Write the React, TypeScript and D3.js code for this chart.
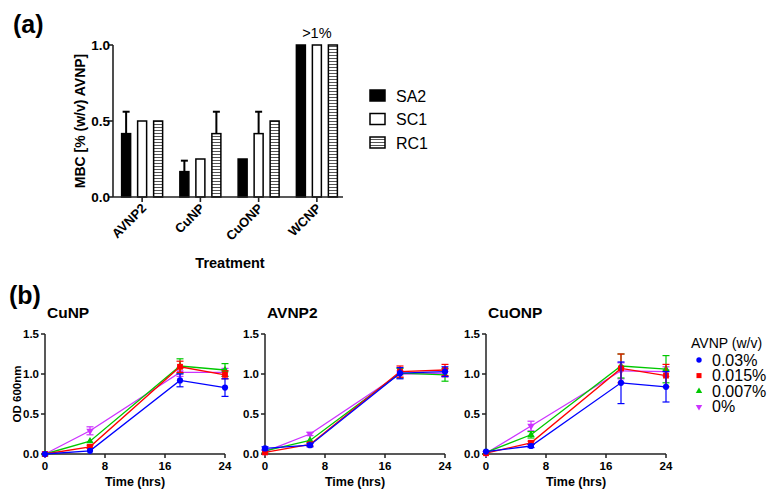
import React from "react";
import * as d3 from "d3";

// ---------- Panel (a) data ----------
const treatments = ["AVNP2", "CuNP", "CuONP", "WCNP"];
const strains = ["SA2", "SC1", "RC1"];
const sa2Values = [0.417, 0.167, 0.25, 1.0];
const sa2Errors = [0.144, 0.072, 0, 0];
const sc1Values = [0.5, 0.25, 0.417, 1.0];
const sc1Errors = [0, 0, 0.144, 0];
const rc1Values = [0.5, 0.417, 0.5, 1.0];
const rc1Errors = [0, 0.144, 0, 0];
const barTicks = [0, 0.5, 1.0];

// ---------- Panel (b) data ----------
const times = [0, 6, 18, 24];
const concLabels = ["0.03%", "0.015%", "0.007%", "0%"];
const panelTitles = ["CuNP", "AVNP2", "CuONP"];
const cunpMean = [
  [0, 0.04, 0.92, 0.83],
  [0, 0.09, 1.09, 0.99],
  [0, 0.16, 1.1, 1.05],
  [0, 0.29, 1.02, 1.02],
];
const cunpErr = [
  [0, 0.01, 0.08, 0.11],
  [0, 0.02, 0.07, 0.05],
  [0, 0.01, 0.09, 0.08],
  [0, 0.05, 0.05, 0.05],
];
const avnp2Mean = [
  [0.07, 0.11, 1.01, 1.03],
  [0.02, 0.12, 1.03, 1.05],
  [0.04, 0.17, 1.01, 0.99],
  [0.03, 0.25, 1.0, 1.01],
];
const avnp2Err = [
  [0.02, 0.02, 0.07, 0.06],
  [0.01, 0.02, 0.07, 0.07],
  [0.01, 0.01, 0.06, 0.08],
  [0.01, 0.02, 0.04, 0.05],
];
const cuonpMean = [
  [0.03, 0.1, 0.89, 0.84],
  [0.01, 0.14, 1.07, 0.98],
  [0.02, 0.24, 1.1, 1.06],
  [0.01, 0.35, 1.04, 1.03],
];
const cuonpErr = [
  [0.01, 0.02, 0.26, 0.19],
  [0.01, 0.02, 0.18, 0.14],
  [0.01, 0.04, 0.15, 0.17],
  [0.01, 0.06, 0.1, 0.06],
];
const odTicks = [0, 0.5, 1.0, 1.5];
const timeTicks = [0, 8, 16, 24];

const seriesColors = ["#0000ff", "#ff0000", "#00c800", "#cc33ff"];
const FONT = "'Liberation Sans', Arial, Helvetica, sans-serif";
const AXIS = "#222";

function markerPath(i: number, scale = 1) {
  const types = [d3.symbolCircle, d3.symbolSquare, d3.symbolTriangle, d3.symbolTriangle];
  const sizes = [30, 34, 24, 24];
  return d3.symbol().type(types[i]).size(sizes[i] * scale)() as string;
}

function BarPanel() {
  const x = d3.scaleBand<string>().domain(treatments).range([113, 346]).padding(0);
  const inner = d3.scaleBand<string>().domain(strains).range([-20.5, 20.5]).paddingInner(0.4375).paddingOuter(0);
  const y = d3.scaleLinear().domain([0, 1]).range([197, 45]);
  const values = [sa2Values, sc1Values, rc1Values];
  const errors = [sa2Errors, sc1Errors, rc1Errors];
  const fills = ["#000", "#fff", "url(#hstripes)"];
  const bw = inner.bandwidth();
  return (
    <g>
      <defs>
        <pattern id="hstripes" width="4" height="3" patternUnits="userSpaceOnUse">
          <rect width="4" height="3" fill="#fff" />
          <line x1="0" x2="4" y1="1.5" y2="1.5" stroke="#555" strokeWidth="1" />
        </pattern>
      </defs>
      <text x={13} y={33} fontFamily={FONT} fontWeight="bold" fontSize={25}>(a)</text>
      {treatments.map((t, ti) =>
        strains.map((s, si) => {
          const cx = (x(t) as number) + x.bandwidth() / 2 + (inner(s) as number);
          const v = values[si][ti];
          const e = errors[si][ti];
          return (
            <g key={t + s}>
              {e > 0 && (
                <g stroke="#000" strokeWidth={2}>
                  <line x1={cx + bw / 2} x2={cx + bw / 2} y1={y(v)} y2={y(v + e)} />
                  <line x1={cx + 1} x2={cx + bw - 1} y1={y(v + e)} y2={y(v + e)} />
                </g>
              )}
              <rect x={cx} y={y(v)} width={bw} height={y(0) - y(v)} fill={fills[si]} stroke="#000" strokeWidth={1.5} />
            </g>
          );
        })
      )}
      <line x1={113} x2={113} y1={y(1)} y2={y(0)} stroke={AXIS} strokeWidth={1.6} />
      {barTicks.map((tk) => (
        <g key={tk}>
          <line x1={108} x2={113} y1={y(tk)} y2={y(tk)} stroke={AXIS} strokeWidth={1.6} />
          <text x={110} y={y(tk) + 4.5} textAnchor="end" fontFamily={FONT} fontWeight="bold" fontSize={13.5}>
            {tk.toFixed(1)}
          </text>
        </g>
      ))}
      <text
        transform={`translate(85,121) rotate(-90)`}
        textAnchor="middle"
        fontFamily={FONT}
        fontWeight="bold"
        fontSize={14}
      >
        MBC [% (w/v) AVNP]
      </text>
      <line x1={113} x2={343} y1={y(0)} y2={y(0)} stroke={AXIS} strokeWidth={1.6} />
      {treatments.map((t) => {
        const cx = (x(t) as number) + x.bandwidth() / 2;
        return (
          <g key={t}>
            <line x1={cx} x2={cx} y1={y(0)} y2={y(0) + 5} stroke={AXIS} strokeWidth={1.6} />
            <text
              transform={`translate(${cx + 5},${y(0) + 12}) rotate(-45)`}
              textAnchor="end"
              fontFamily={FONT}
              fontWeight="bold"
              fontSize={13}
            >
              {t}
            </text>
          </g>
        );
      })}
      <text x={230} y={268} textAnchor="middle" fontFamily={FONT} fontWeight="bold" fontSize={14.5}>
        Treatment
      </text>
      <text
        x={(x("WCNP") as number) + x.bandwidth() / 2}
        y={38}
        textAnchor="middle"
        fontFamily={FONT}
        fontSize={14.5}
      >
        &gt;1%
      </text>
      {strains.map((s, si) => {
        const ly = 90 + si * 23.5;
        return (
          <g key={s}>
            <rect x={370} y={ly} width={15} height={11} fill={fills[si]} stroke="#000" strokeWidth={1.5} />
            <text x={396} y={ly + 11.5} fontFamily={FONT} fontSize={16}>
              {s}
            </text>
          </g>
        );
      })}
    </g>
  );
}

function LinePanel({ left, title, means, errs, showYLabel }: any) {
  const x = d3.scaleLinear().domain([0, 24]).range([left, left + 180]);
  const y = d3.scaleLinear().domain([0, 1.5]).range([454, 334]);
  const line = d3
    .line<number>()
    .x((_, i) => x(times[i]))
    .y((d) => y(d));
  return (
    <g>
      <text x={left + 2} y={318} fontFamily={FONT} fontWeight="bold" fontSize={15.5}>
        {title}
      </text>
      <line x1={left} x2={left} y1={y(1.5)} y2={y(0)} stroke={AXIS} strokeWidth={1.5} />
      {odTicks.map((tk) => (
        <g key={tk}>
          <line x1={left - 4} x2={left} y1={y(tk)} y2={y(tk)} stroke={AXIS} strokeWidth={1.5} />
          <text x={left - 6} y={y(tk) + 4} textAnchor="end" fontFamily={FONT} fontWeight="bold" fontSize={11.5}>
            {tk.toFixed(1)}
          </text>
        </g>
      ))}
      <line x1={left} x2={left + 180} y1={y(0)} y2={y(0)} stroke={AXIS} strokeWidth={1.5} />
      {timeTicks.map((tk) => (
        <g key={tk}>
          <line x1={x(tk)} x2={x(tk)} y1={y(0)} y2={y(0) + 4} stroke={AXIS} strokeWidth={1.5} />
          <text x={x(tk)} y={y(0) + 16} textAnchor="middle" fontFamily={FONT} fontWeight="bold" fontSize={11.5}>
            {tk}
          </text>
        </g>
      ))}
      <text x={left + 90} y={486} textAnchor="middle" fontFamily={FONT} fontWeight="bold" fontSize={12.5}>
        Time (hrs)
      </text>
      {showYLabel && (
        <text
          transform={`translate(21,394) rotate(-90)`}
          textAnchor="middle"
          fontFamily={FONT}
          fontWeight="bold"
          fontSize={11.5}
        >
          OD 600nm
        </text>
      )}
      {[3, 2, 1, 0].map((si) => (
        <g key={si}>
          <path d={line(means[si]) as string} fill="none" stroke={seriesColors[si]} strokeWidth={1.3} />
          {means[si].map((m: number, i: number) => {
            const e = errs[si][i];
            const cx = x(times[i]);
            return (
              <g key={i} stroke={seriesColors[si]} strokeWidth={1.2}>
                {e > 0.015 && (
                  <>
                    <line x1={cx} x2={cx} y1={y(m - e)} y2={y(m + e)} />
                    <line x1={cx - 3.5} x2={cx + 3.5} y1={y(m + e)} y2={y(m + e)} />
                    <line x1={cx - 3.5} x2={cx + 3.5} y1={y(m - e)} y2={y(m - e)} />
                  </>
                )}
                <path
                  d={markerPath(si)}
                  transform={`translate(${cx},${y(m)})${si === 3 ? " rotate(180)" : ""}`}
                  fill={seriesColors[si]}
                  stroke="none"
                />
              </g>
            );
          })}
        </g>
      ))}
    </g>
  );
}

function Legend() {
  return (
    <g fontFamily={FONT}>
      <text x={691} y={348} fontSize={14}>
        AVNP (w/v)
      </text>
      {concLabels.map((c, i) => {
        const ly = 360 + i * 15.6;
        return (
          <g key={c}>
            <path
              d={markerPath(i, 0.75)}
              transform={`translate(699,${ly})${i === 3 ? " rotate(180)" : ""}`}
              fill={seriesColors[i]}
            />
            <text x={712} y={ly + 5.5} fontSize={16}>
              {c}
            </text>
          </g>
        );
      })}
    </g>
  );
}

export default function App() {
  const means = [cunpMean, avnp2Mean, cuonpMean];
  const errs = [cunpErr, avnp2Err, cuonpErr];
  const lefts = [45, 265, 486];
  return (
    <svg
      width={770}
      height={501}
      viewBox="0 0 770 501"
      style={{ position: "absolute", left: 0, top: 0, background: "#fff" }}
    >
      <rect width={770} height={501} fill="#fff" />
      <BarPanel />
      <text x={9} y={304} fontFamily={FONT} fontWeight="bold" fontSize={25}>(b)</text>
      {panelTitles.map((t, i) => (
        <LinePanel key={t} left={lefts[i]} title={t} means={means[i]} errs={errs[i]} showYLabel={i === 0} />
      ))}
      <Legend />
    </svg>
  );
}
